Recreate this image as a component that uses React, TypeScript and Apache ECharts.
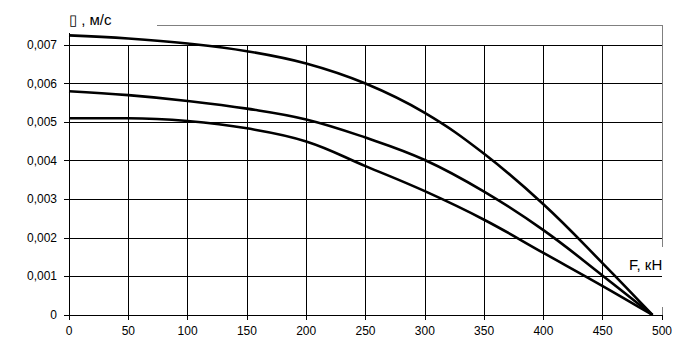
import React, { useEffect, useRef } from "react";
import * as echarts from "echarts";

const forceKN = [0, 50, 100, 150, 200, 250, 300, 350, 400, 450, 492];
const speedTop = [0.00725, 0.00717, 0.00704, 0.00684, 0.00652, 0.006, 0.00524, 0.00418, 0.00287, 0.00134, 0];
const speedMid = [0.0058, 0.0057, 0.00555, 0.00535, 0.00507, 0.0046, 0.00402, 0.0032, 0.0022, 0.00102, 0];
const speedLow = [0.0051, 0.0051, 0.00503, 0.00484, 0.0045, 0.00386, 0.00321, 0.00247, 0.00161, 0.00075, 0];

const yAxisName = "▯ , м/с";
const xAxisName = "F, кН";

const FONT = "'Liberation Sans', Arial, sans-serif";

export default function App() {
  const ref = useRef<HTMLDivElement>(null);
  useEffect(() => {
    if (!ref.current) return;
    const chart = echarts.init(ref.current, null, { renderer: "svg" });
    const mk = (vals: number[]) => forceKN.map((f, i) => [f, vals[i]]);
    const lineSeries = (vals: number[]) => ({
      type: "line",
      data: mk(vals),
      smooth: 0.4,
      showSymbol: false,
      clip: false,
      lineStyle: { color: "#000", width: 2.6 },
    });
    chart.setOption({
      animation: false,
      backgroundColor: "#fff",
      grid: { left: 69, top: 45, width: 593, height: 270 },
      xAxis: {
        type: "value",
        min: 0,
        max: 500,
        interval: 50,
        axisLine: { lineStyle: { color: "#000", width: 1 } },
        axisTick: { show: true, length: 5, lineStyle: { color: "#000" } },
        axisLabel: { color: "#000", fontSize: 12, fontFamily: FONT, margin: 10 },
        splitLine: { show: true, showMaxLine: false, lineStyle: { color: "#000", width: 1 } },
      },
      yAxis: {
        type: "value",
        min: 0,
        max: 0.007,
        interval: 0.001,
        axisLine: { show: true, lineStyle: { color: "#000", width: 1 } },
        axisTick: { show: true, length: 5, lineStyle: { color: "#000" } },
        axisLabel: {
          color: "#000",
          fontSize: 12,
          fontFamily: FONT,
          margin: 12,
          formatter: (v: number) => (v === 0 ? "0" : v.toFixed(3).replace(".", ",")),
        },
        splitLine: { show: true, lineStyle: { color: "#000", width: 1 } },
      },
      graphic: [
        { type: "line", shape: { x1: 157, y1: 25.5, x2: 662.5, y2: 25.5 }, style: { stroke: "#808080", lineWidth: 1 } },
        { type: "line", shape: { x1: 662.5, y1: 25, x2: 662.5, y2: 247 }, style: { stroke: "#808080", lineWidth: 1 } },
        { type: "line", shape: { x1: 662.5, y1: 307, x2: 662.5, y2: 315 }, style: { stroke: "#808080", lineWidth: 1 } },
        { type: "line", shape: { x1: 69.5, y1: 33, x2: 69.5, y2: 45 }, style: { stroke: "#000", lineWidth: 1 } },
        {
          type: "text",
          x: 69,
          y: 19,
          style: { text: yAxisName, fill: "#000", font: `15px ${FONT}`, textAlign: "left", textVerticalAlign: "middle" },
        },
        {
          type: "text",
          x: 629,
          y: 264,
          style: { text: xAxisName, fill: "#000", font: `15px ${FONT}`, textAlign: "left", textVerticalAlign: "middle" },
        },
      ],
      series: [lineSeries(speedTop), lineSeries(speedMid), lineSeries(speedLow)],
    });
    return () => chart.dispose();
  }, []);
  return (
    <div
      ref={ref}
      style={{ position: "fixed", left: 0, top: 0, width: 692, height: 361, background: "#fff" }}
    />
  );
}
